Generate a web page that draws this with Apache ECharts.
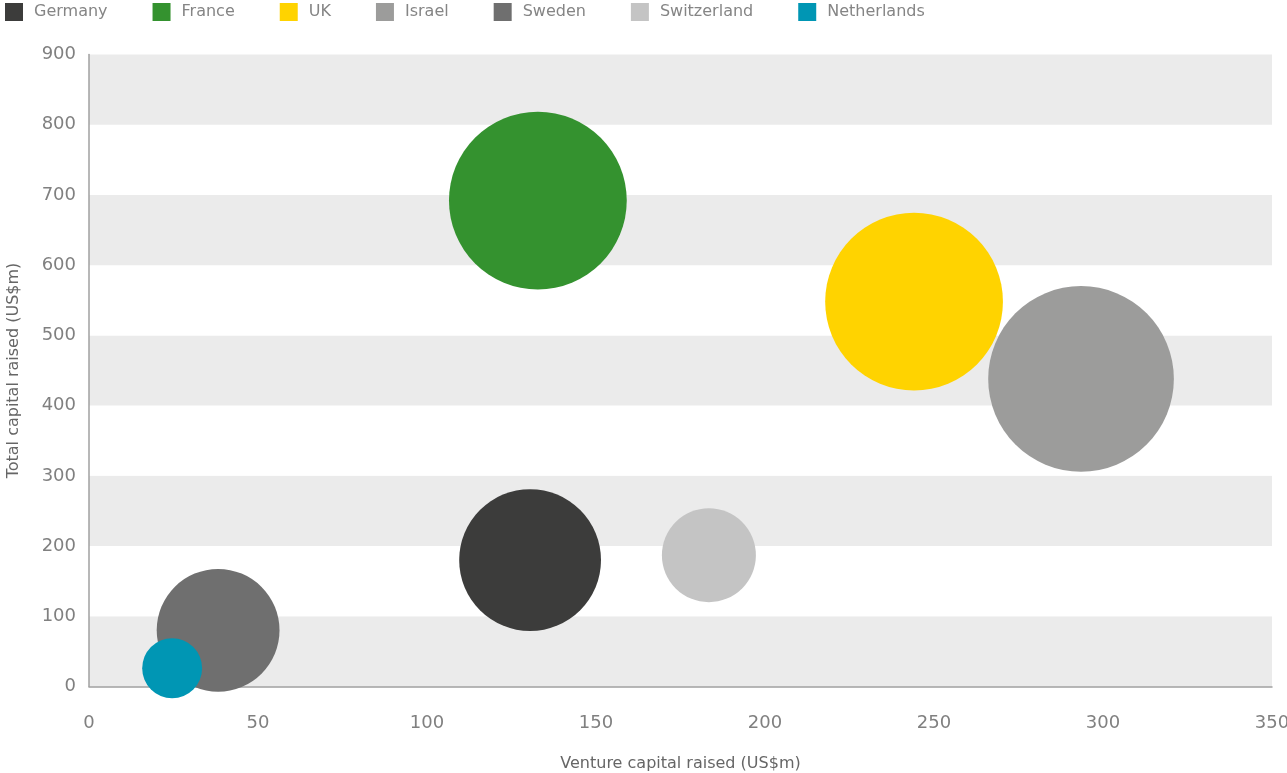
<!DOCTYPE html>
<html>
<head>
<meta charset="utf-8">
<script src="https://cdn.jsdelivr.net/npm/echarts@6/dist/echarts.min.js"></script>
<style>
html,body{margin:0;padding:0;background:#fff;}
#chart{width:1287px;height:773px;}
</style>
</head>
<body>
<div id="chart"></div>
<script>
const countries = ['Germany','France','UK','Israel','Sweden','Switzerland','Netherlands'];
const ventureCapital = [130.5, 132.8, 244.1, 293.5, 38.2, 183.4, 24.6];
const totalCapital = [180, 692, 548, 438, 80, 187, 26];
const bubbleSize = [28, 44, 44, 48, 21, 12.3, 5];
const colors = ['#3c3c3b','#34922f','#ffd300','#9c9c9b','#6f6f6f','#c4c4c4','#0096b4'];
const xTicks = {min:0, max:350, interval:50};
const yTicks = {min:0, max:900, interval:100};

const chart = echarts.init(document.getElementById('chart'));
const font = '"DejaVu Sans", sans-serif';
const series = countries.map((name, i) => ({
  name: name,
  type: 'scatter',
  data: [[ventureCapital[i], totalCapital[i], bubbleSize[i]]],
  symbolSize: d => Math.sqrt(d[2]) * 26.8,
  itemStyle: {color: colors[i], opacity: 1},
  emphasis: {disabled: true}
}));
chart.setOption({
  animation: false,
  color: colors,
  textStyle: {fontFamily: font},
  legend: {
    left: 5, top: 3, padding: 0,
    icon: 'rect', itemWidth: 18, itemHeight: 18, itemGap: 45,
    data: countries,
    textStyle: {color: '#858585', fontSize: 16, fontFamily: font, padding: [2,0,0,6]}
  },
  grid: {left: 89, right: 15, top: 54.5, bottom: 86.5, containLabel: false, outerBoundsMode: 'none'},
  xAxis: {
    type: 'value', min: xTicks.min, max: xTicks.max, interval: xTicks.interval,
    name: 'Venture capital raised (US$m)', nameLocation: 'middle', nameGap: 69,
    nameTextStyle: {color: '#666666', fontSize: 16, fontFamily: font},
    axisLine: {show: true, lineStyle: {color: '#a0a0a0', width: 1.5}},
    axisTick: {show: false},
    axisLabel: {color: '#808080', fontSize: 18, margin: 28, fontFamily: font},
    splitLine: {show: false}
  },
  yAxis: {
    type: 'value', min: yTicks.min, max: yTicks.max, interval: yTicks.interval,
    name: 'Total capital raised (US$m)', nameLocation: 'middle', nameGap: 67,
    nameTextStyle: {color: '#666666', fontSize: 16, fontFamily: font},
    axisLine: {show: true, lineStyle: {color: '#a0a0a0', width: 1.5}},
    axisTick: {show: false},
    axisLabel: {color: '#808080', fontSize: 18, margin: 13, fontFamily: font},
    splitLine: {show: false},
    splitArea: {show: true, areaStyle: {color: ['#ebebeb', '#ffffff']}}
  },
  series: series
});
</script>
</body>
</html>
